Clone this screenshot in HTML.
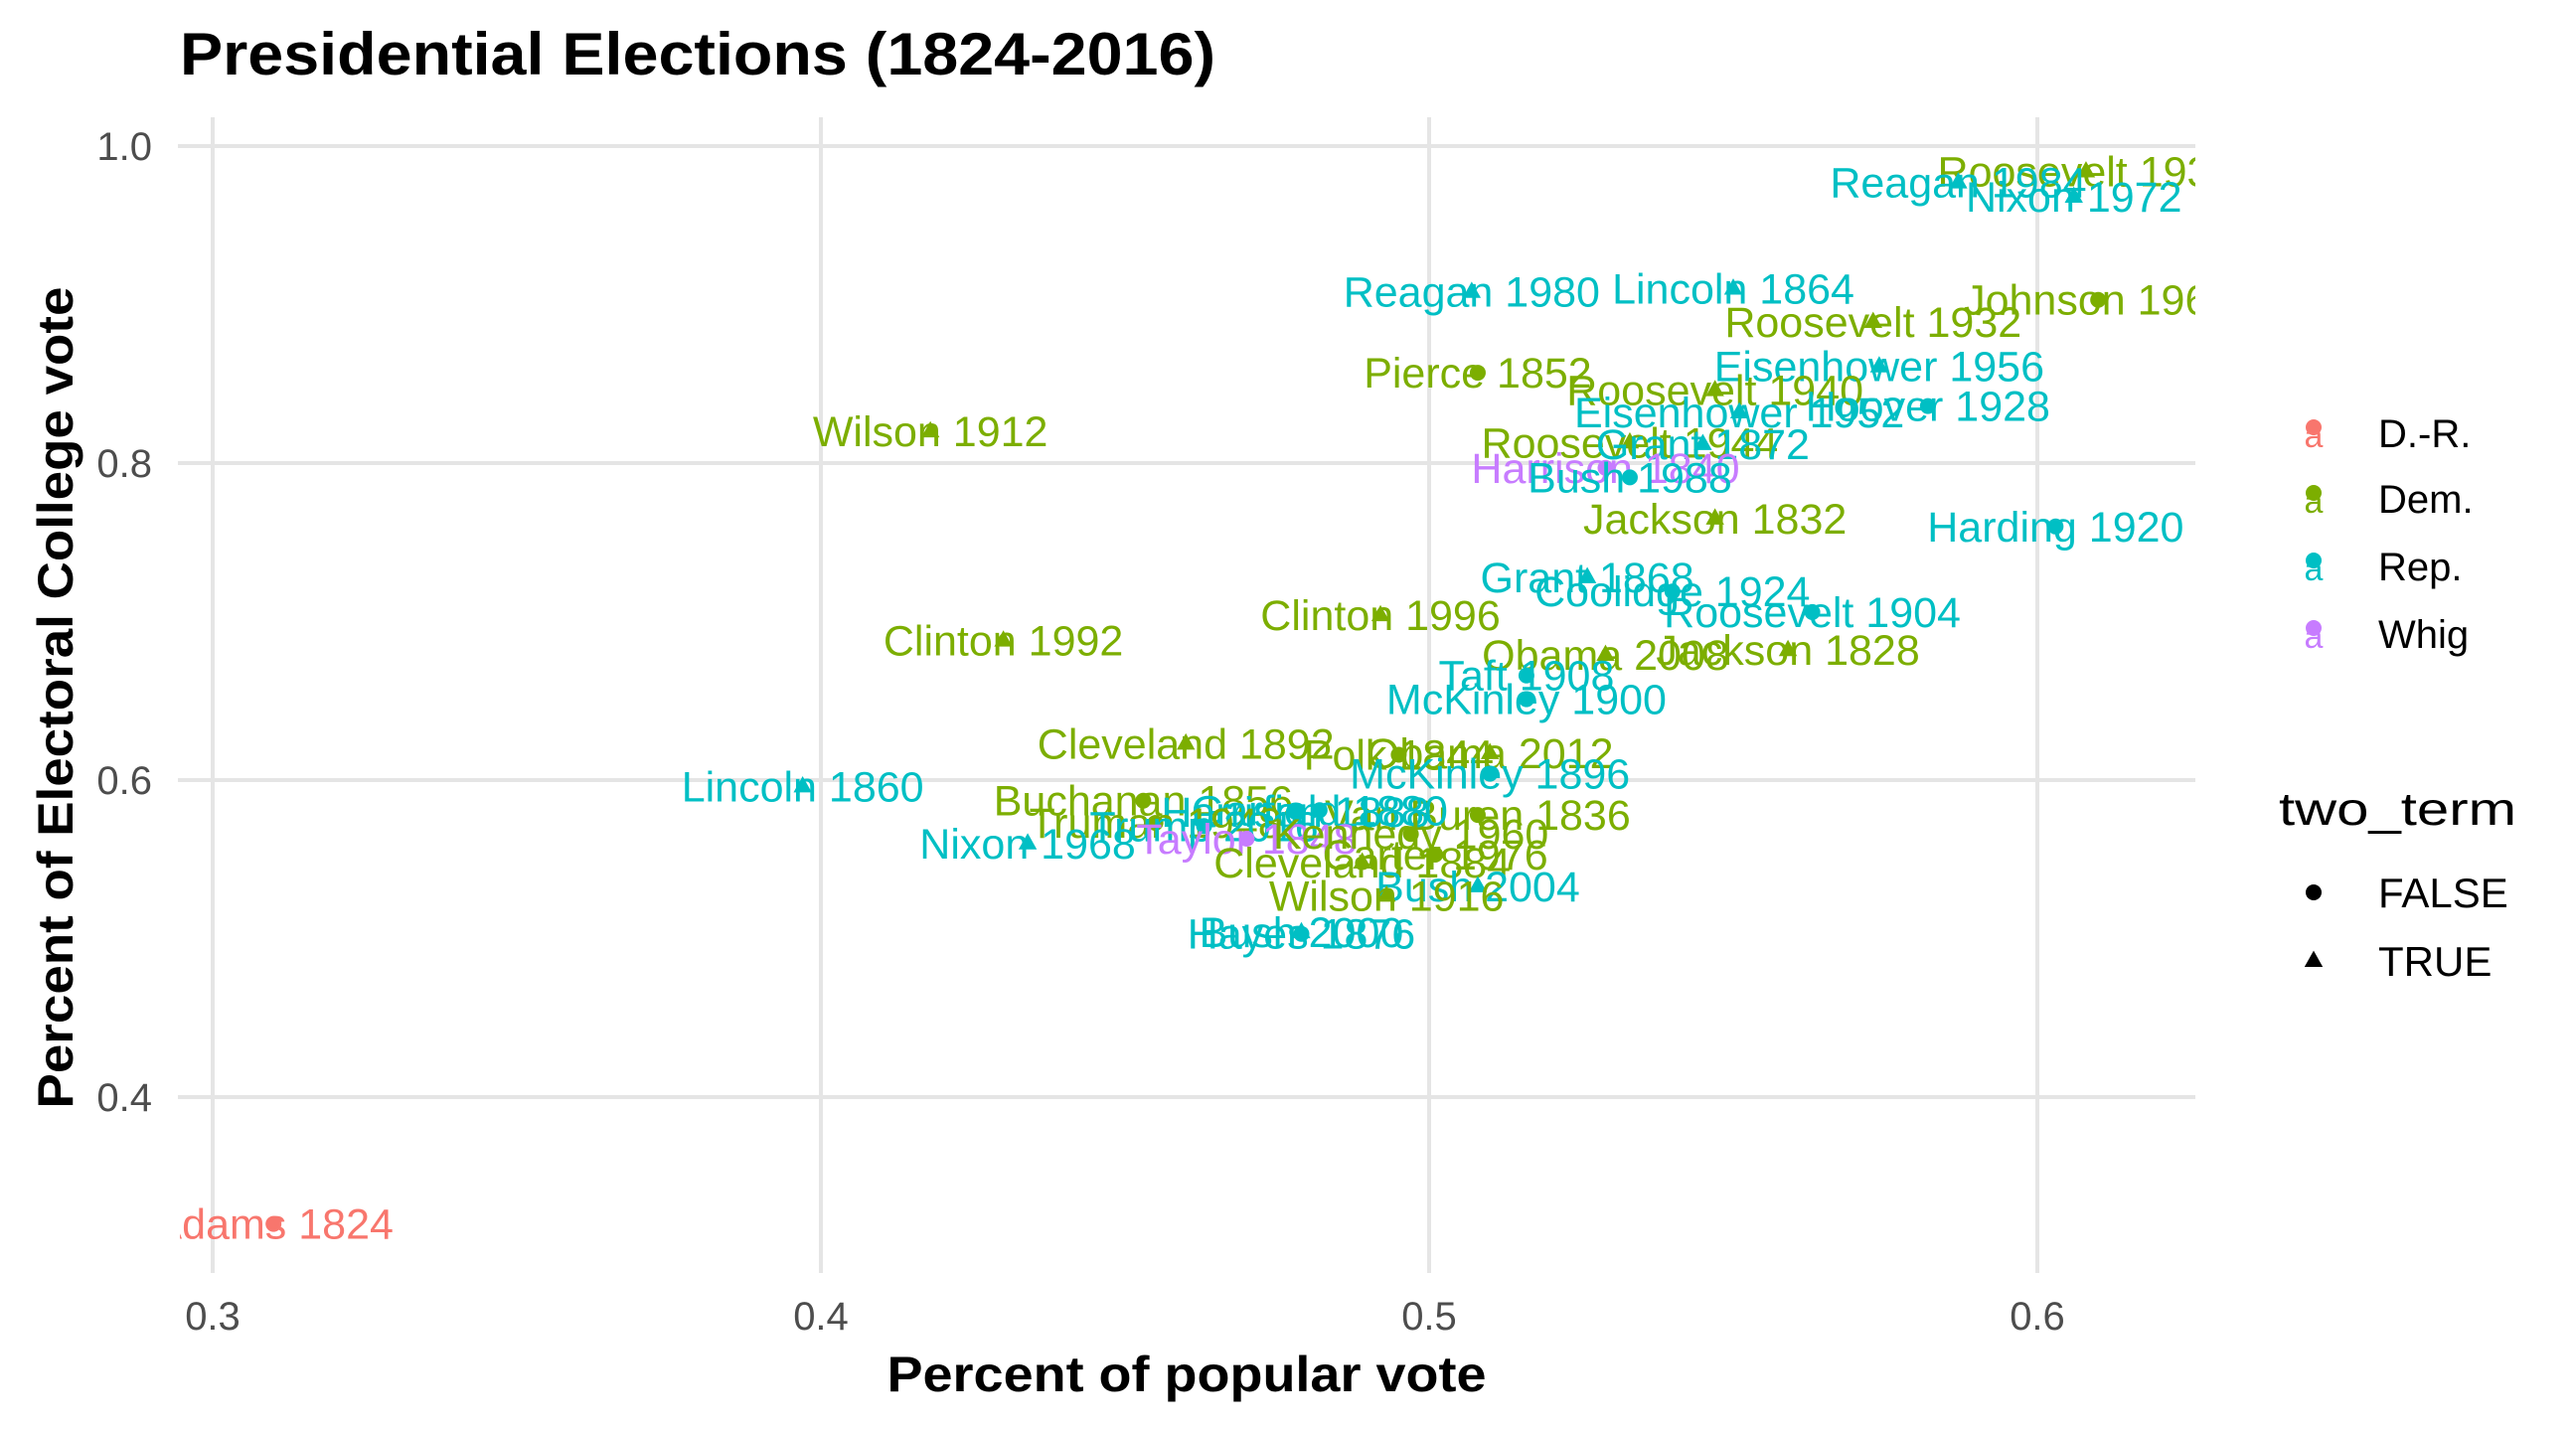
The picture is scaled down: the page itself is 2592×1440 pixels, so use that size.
<!DOCTYPE html>
<html><head><meta charset="utf-8"><style>
html,body{margin:0;padding:0;background:#fff;}
svg{display:block;font-family:"Liberation Sans",sans-serif;}
</style></head><body>
<svg id="chart" width="2592" height="1440" viewBox="0 0 2592 1440" xmlns="http://www.w3.org/2000/svg">
<defs><clipPath id="panelClip"><rect x="181" y="118" width="2028" height="1163"/></clipPath></defs>
<text x="181" y="75" font-size="60" font-weight="bold" textLength="1042" lengthAdjust="spacingAndGlyphs">Presidential Elections (1824-2016)</text>
<g id="grid"></g>
<g id="axes"></g>
<g id="marks" clip-path="url(#panelClip)"></g>
<text x="1194" y="1400" font-size="50" font-weight="bold" text-anchor="middle" textLength="603" lengthAdjust="spacingAndGlyphs">Percent of popular vote</text>
<text transform="translate(73,702) rotate(-90)" font-size="50" font-weight="bold" text-anchor="middle" textLength="827" lengthAdjust="spacingAndGlyphs">Percent of Electoral College vote</text>
<g id="legend"></g>
</svg>
<script>
const names = ["Adams 1824","Roosevelt 1936","Reagan 1984","Nixon 1972","Johnson 1964","Reagan 1980","Lincoln 1864","Roosevelt 1932","Pierce 1852","Eisenhower 1956","Roosevelt 1940","Eisenhower 1952","Hoover 1928","Roosevelt 1944","Grant 1872","Wilson 1912","Harrison 1840","Bush 1988","Jackson 1832","Harding 1920","Grant 1868","Coolidge 1924","Roosevelt 1904","Clinton 1996","Clinton 1992","Obama 2008","Jackson 1828","Taft 1908","McKinley 1900","Cleveland 1892","Polk 1844","Obama 2012","McKinley 1896","Lincoln 1860","Buchanan 1856","Van Buren 1836","Garfield 1880","Harrison 1888","Truman 1948","Trump 2016","Taylor 1848","Kennedy 1960","Nixon 1968","Carter 1976","Cleveland 1884","Bush 2004","Wilson 1916","Bush 2000","Hayes 1876"];
const popVote = [0.310,0.608,0.587,0.606,0.610,0.507,0.550,0.573,0.508,0.574,0.547,0.551,0.582,0.533,0.545,0.418,0.529,0.533,0.547,0.603,0.526,0.540,0.563,0.492,0.430,0.529,0.559,0.516,0.516,0.460,0.495,0.510,0.510,0.397,0.453,0.508,0.482,0.478,0.455,0.463,0.470,0.497,0.434,0.501,0.489,0.508,0.493,0.479,0.479];
const ecVote = [0.320,0.984,0.977,0.968,0.903,0.908,0.910,0.889,0.857,0.861,0.846,0.832,0.836,0.813,0.812,0.820,0.797,0.791,0.765,0.760,0.728,0.719,0.706,0.704,0.688,0.679,0.682,0.666,0.651,0.623,0.616,0.617,0.604,0.596,0.587,0.578,0.581,0.580,0.573,0.571,0.563,0.566,0.560,0.553,0.548,0.533,0.527,0.504,0.503];
const party = ["D.-R.","Dem.","Rep.","Rep.","Dem.","Rep.","Rep.","Dem.","Dem.","Rep.","Dem.","Rep.","Rep.","Dem.","Rep.","Dem.","Whig","Rep.","Dem.","Rep.","Rep.","Rep.","Rep.","Dem.","Dem.","Dem.","Dem.","Rep.","Rep.","Dem.","Dem.","Dem.","Rep.","Rep.","Dem.","Dem.","Rep.","Rep.","Dem.","Rep.","Whig","Dem.","Rep.","Dem.","Dem.","Rep.","Dem.","Rep.","Rep."];
const twoTerm = [false,true,true,true,false,true,true,true,false,true,true,true,false,true,true,true,false,false,true,false,true,false,false,true,true,true,true,false,false,true,false,true,false,true,false,false,false,false,false,false,false,false,true,false,true,true,true,true,false];
const xTicks = [0.3,0.4,0.5,0.6];
const xTickLabels = ["0.3","0.4","0.5","0.6"];
const yTicks = [0.4,0.6,0.8,1.0];
const yTickLabels = ["0.4","0.6","0.8","1.0"];
const partyNames = ["D.-R.","Dem.","Rep.","Whig"];
const partyColors = ["#F8766D","#7CAE00","#00BFC4","#C77CFF"];
const termLabels = ["FALSE","TRUE"];

const NS="http://www.w3.org/2000/svg";
const X = v => 214 + (v-0.3)*6120;
const Y = v => 147 + (1.0-v)*1595;
const PL=179, PR=2209, PT=118, PB=1281;
function mk(tag, attrs, parent){const e=document.createElementNS(NS,tag);for(const k in attrs)e.setAttribute(k,attrs[k]);parent.appendChild(e);return e;}
const grid=document.getElementById('grid'), axes=document.getElementById('axes'), marks=document.getElementById('marks'), legend=document.getElementById('legend');
xTicks.forEach((t,i)=>{
  const l=mk('line',{x1:X(t),x2:X(t),y1:PT,y2:PB,stroke:'#e5e5e5','stroke-width':4},grid);
  
  
  const tx=mk('text',{x:X(t),y:1338,'font-size':40,fill:'#4d4d4d','text-anchor':'middle'},axes);
  tx.textContent=xTickLabels[i];
  
  
});
yTicks.forEach((t,i)=>{
  const l=mk('line',{x1:PL,x2:PR,y1:Y(t),y2:Y(t),stroke:'#e5e5e5','stroke-width':4},grid);
  
  
  const tx=mk('text',{x:153,y:Y(t)+14,'font-size':40,fill:'#4d4d4d','text-anchor':'end'},axes);
  tx.textContent=yTickLabels[i];
  
  
});
function marker(x,y,tri,color,parent,r){
  if(tri){return mk('polygon',{points:`${x},${y-r*1.3} ${x-r*1.15},${y+r*0.75} ${x+r*1.15},${y+r*0.75}`,fill:color},parent);}
  return mk('circle',{cx:x,cy:y,r:r,fill:color},parent);
}
names.forEach((n,i)=>{
  const c=partyColors[partyNames.indexOf(party[i])];
  const x=X(popVote[i]), y=Y(ecVote[i]);
  const m=marker(x,y,twoTerm[i],c,marks,8);
  
  
  const t=mk('text',{x:x,y:y+15,'font-size':43,fill:c,'text-anchor':'middle'},marks);
  t.textContent=n;
  
  
});
const legY=[436,502,570,638];
partyNames.forEach((p,i)=>{
  const d=mk('circle',{cx:2328,cy:legY[i]-6,r:8,fill:partyColors[i]},legend);
  
  
  const a=mk('text',{x:2328,y:legY[i]+14,'font-size':34,fill:partyColors[i],'text-anchor':'middle'},legend);
  a.textContent='a';
  
  
  const t=mk('text',{x:2393,y:legY[i]+14,'font-size':40},legend);
  t.textContent=p;
  
  
});
const tt=mk('text',{x:2293,y:830,'font-size':46,textLength:239,lengthAdjust:'spacingAndGlyphs'},legend);
tt.textContent='two_term';


const termY=[898,967];
termLabels.forEach((lab,i)=>{
  const m=marker(2328,termY[i],i===1,'#000',legend,8);
  
  
  const t=mk('text',{x:2393,y:termY[i]+15,'font-size':42},legend);
  t.textContent=lab;
  
  
});
</script>
</body></html>
